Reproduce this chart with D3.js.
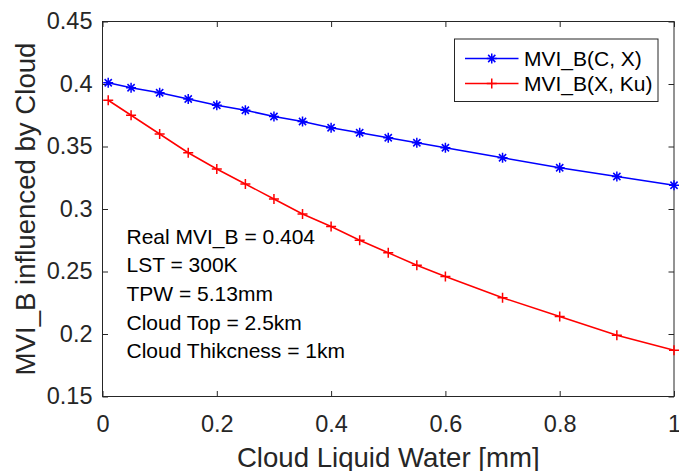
<!DOCTYPE html>
<html>
<head>
<meta charset="utf-8">
<script src="https://cdn.jsdelivr.net/npm/d3@7"></script>
<style>
  html, body { margin: 0; padding: 0; background: #fff; }
  svg { display: block; }
  text { font-family: "Liberation Sans", Arial, Helvetica, sans-serif; }
</style>
</head>
<body>
<svg id="chart" width="679" height="471"></svg>
<script>
// Cloud liquid water path [mm]
const cloudWater = [0.01, 0.05, 0.1, 0.15, 0.2, 0.25, 0.3, 0.35, 0.4, 0.45, 0.5, 0.55, 0.6, 0.7, 0.8, 0.9, 1.0];
// MVI_B computed from the C and X bands
const mviCX = [0.401, 0.397, 0.393, 0.388, 0.383, 0.379, 0.374, 0.370, 0.365, 0.361, 0.357, 0.353, 0.349, 0.341, 0.333, 0.326, 0.319];
// MVI_B computed from the X and Ku bands
const mviXKu = [0.387, 0.375, 0.360, 0.345, 0.332, 0.320, 0.308, 0.296, 0.286, 0.275, 0.265, 0.255, 0.246, 0.229, 0.214, 0.199, 0.187];

const xTicks = [0, 0.2, 0.4, 0.6, 0.8, 1];
const yTicks = [0.15, 0.2, 0.25, 0.3, 0.35, 0.4, 0.45];
const seriesNames = ["MVI_B(C, X)", "MVI_B(X, Ku)"];
const notes = ["Real MVI_B = 0.404", "LST = 300K", "TPW = 5.13mm", "Cloud Top = 2.5km", "Cloud Thikcness = 1km"];

const svg = d3.select("#chart");
const box = { left: 102.5, right: 674, top: 21.5, bottom: 396.5 };

const x = d3.scaleLinear().domain([0, 1]).range([box.left, box.right]);
const y = d3.scaleLinear().domain([0.15, 0.45]).range([box.bottom, box.top]);

const axisColor = "#262626";
const tickLen = 5.5;
const tickFont = "23.5px";

// Axes: ticks point inward, mirrored on top and right
const gx = svg.append("g").attr("transform", `translate(0,${box.bottom})`)
  .call(d3.axisBottom(x).tickValues(xTicks).tickFormat(d3.format("~g")).tickSizeInner(-tickLen).tickSizeOuter(0).tickPadding(20));
const gxTop = svg.append("g").attr("transform", `translate(0,${box.top})`)
  .call(d3.axisTop(x).tickValues(xTicks).tickFormat("").tickSizeInner(-tickLen).tickSizeOuter(0));
const gy = svg.append("g").attr("transform", `translate(${box.left},0)`)
  .call(d3.axisLeft(y).tickValues(yTicks).tickFormat(d3.format("~g")).tickSizeInner(-tickLen).tickSizeOuter(0).tickPadding(10));
const gyRight = svg.append("g").attr("transform", `translate(${box.right},0)`)
  .call(d3.axisRight(y).tickValues(yTicks).tickFormat("").tickSizeInner(-tickLen).tickSizeOuter(0));

[gx, gxTop, gy, gyRight].forEach(g => {
  g.select(".domain").remove();
  g.selectAll(".tick line").attr("stroke", axisColor).attr("stroke-width", 1);
  g.selectAll(".tick text").attr("fill", axisColor).style("font-size", tickFont)
    .style("font-family", '"Liberation Sans", Arial, sans-serif');
});
gx.selectAll(".tick text").attr("dy", null).attr("y", 35.5);
gy.selectAll(".tick text").attr("dy", "0.3em");

// Axes box
svg.append("rect")
  .attr("x", box.left).attr("y", box.top)
  .attr("width", box.right - box.left).attr("height", box.bottom - box.top)
  .attr("fill", "none").attr("stroke", axisColor).attr("stroke-width", 1);

// Axis titles
svg.append("text")
  .attr("x", (box.left + box.right) / 2).attr("y", 466.5)
  .attr("text-anchor", "middle").attr("fill", axisColor)
  .style("font-size", "27.6px")
  .text("Cloud Liquid Water [mm]");
svg.append("text")
  .attr("transform", `translate(35,${(box.top + box.bottom) / 2}) rotate(-90)`)
  .attr("text-anchor", "middle").attr("fill", axisColor)
  .style("font-size", "27.6px")
  .text("MVI_B influenced by Cloud");

// Marker shapes
const mk = 5;
function asterisk(g, cx, cy, color) {
  const d = mk * 0.72;
  const path = `M${cx - mk},${cy}L${cx + mk},${cy}M${cx},${cy - mk}L${cx},${cy + mk}` +
               `M${cx - d},${cy - d}L${cx + d},${cy + d}M${cx - d},${cy + d}L${cx + d},${cy - d}`;
  g.append("path").attr("d", path).attr("stroke", color).attr("stroke-width", 1.5).attr("fill", "none");
}
function plus(g, cx, cy, color) {
  const path = `M${cx - mk},${cy}L${cx + mk},${cy}M${cx},${cy - mk}L${cx},${cy + mk}`;
  g.append("path").attr("d", path).attr("stroke", color).attr("stroke-width", 1.5).attr("fill", "none");
}

const series = [
  { name: seriesNames[0], values: mviCX, color: "#0000ff", marker: asterisk },
  { name: seriesNames[1], values: mviXKu, color: "#ff0000", marker: plus }
];

const line = d3.line().x(d => x(d[0])).y(d => y(d[1]));
const plot = svg.append("g");
series.forEach(s => {
  const pts = cloudWater.map((c, i) => [c, s.values[i]]);
  plot.append("path").attr("d", line(pts))
    .attr("fill", "none").attr("stroke", s.color).attr("stroke-width", 1.5);
  const gm = plot.append("g");
  pts.forEach(p => s.marker(gm, x(p[0]), y(p[1]), s.color));
});

// Legend
const leg = svg.append("g");
leg.append("rect")
  .attr("x", 454.5).attr("y", 39).attr("width", 203.5).attr("height", 62.5)
  .attr("fill", "#fff").attr("stroke", "#262626").attr("stroke-width", 1);
series.forEach((s, i) => {
  const ry = 58.5 + i * 25;
  leg.append("line").attr("x1", 465).attr("x2", 518.5).attr("y1", ry).attr("y2", ry)
    .attr("stroke", s.color).attr("stroke-width", 1.5);
  s.marker(leg, (465 + 518.5) / 2, ry, s.color);
  leg.append("text").attr("x", 524).attr("y", ry).attr("dy", "0.36em")
    .attr("fill", "#000").style("font-size", "21px").text(s.name);
});

// Scenario notes
const noteG = svg.append("g");
notes.forEach((t, i) => {
  noteG.append("text").attr("x", 126.5).attr("y", 243.5 + i * 28.7)
    .attr("fill", "#000").style("font-size", "21px").text(t);
});
</script>
</body>
</html>
